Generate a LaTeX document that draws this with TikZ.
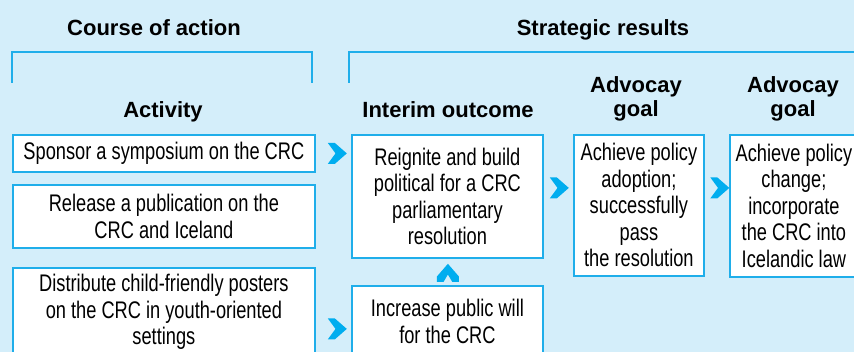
\documentclass[tikz,border=0pt]{standalone}
\usepackage{fontspec}
\setmainfont{Liberation Sans}
\newfontfamily\condfont[FakeStretch=0.76]{Liberation Sans}
\usetikzlibrary{calc}
\definecolor{bgc}{HTML}{D4EEFA}
\definecolor{linec}{HTML}{1FAEEA}
\definecolor{chevc}{HTML}{00ADEF}
\tikzset{
  box/.style={draw=linec, line width=1.8pt, fill=white, anchor=north west, align=center, inner sep=0pt,
    font=\condfont\fontsize{24}{26.5}\selectfont},
  head/.style={font=\bfseries\fontsize{22}{24}\selectfont, align=center, inner sep=0pt},
  brk/.style={draw=linec, line width=1.6pt},
  chevr/.pic={\fill[chevc] (-9.5,-10.5) -- (-2.5,-10.5) -- (9.5,0) -- (-2.5,10.5) -- (-9.5,10.5) -- (-1.8,0) -- cycle;},
  chevu/.pic={\fill[chevc] (0,-9) -- (11,3.7) -- (11,9) -- (4.3,9) -- (0,1.7) -- (-4.3,9) -- (-11,9) -- (-11,3.7) -- cycle;}
}
\begin{document}
\begin{tikzpicture}[x=1pt,y=-1pt]
\fill[bgc] (0,0) rectangle (854,352);
\useasboundingbox (0,0) rectangle (854,352);
\clip (0,0) rectangle (854,352);
% headings
\node[head, anchor=base] (hcoa) at (154,36) {Course of action};
\node[head, anchor=base] (hsr) at (603,36) {Strategic results};
\node[head, anchor=base] (hact) at (163,118) {Activity};
\node[head, anchor=base] (hint) at (448,118) {Interim outcome};
\node[head] (hg1) at (636,99.3) {Advocay\\goal};
\node[head] (hg2) at (793,99.3) {Advocay\\goal};
% brackets
\draw[brk] (12,83) -- (12,52) -- (312,52) -- (312,83);
\draw[brk] (349,83) -- (349,52) -- (860,52);
% boxes
\node[box, minimum width=302, minimum height=37] (a) at (12,134) {Sponsor a symposium on the CRC};
\node[box, minimum width=302, minimum height=63] (b) at (12,184) {Release a publication on the\\CRC and Iceland};
\node[box, minimum width=302, minimum height=88] (c) at (12,267) {Distribute child-friendly posters\\on the CRC in youth-oriented\\settings};
\node[box, minimum width=191, minimum height=123] (i1) at (351,134) {Reignite and build\\political for a CRC\\parliamentary\\resolution};
\node[box, minimum width=191, minimum height=71] (i2) at (351,285) {Increase public will\\for the CRC};
\node[box, minimum width=130, minimum height=141] (g1) at (573,134) {Achieve policy\\adoption;\\successfully\\pass\\the resolution};
\node[box, minimum width=128, minimum height=142] (g2) at (729,134) {Achieve policy\\change;\\incorporate\\the CRC into\\Icelandic law};
% chevrons
\pic at ($(a.east)+(21.5,0)$) {chevr};
\pic at ($(c.east)+(21.5,17)$) {chevr};
\pic at ($(i1.east)+(15.5,-8.5)$) {chevr};
\pic at ($(g1.east)+(15,-17.5)$) {chevr};
\pic at ($(i1.south)+(0.5,14)$) {chevu};
\end{tikzpicture}
\end{document}
